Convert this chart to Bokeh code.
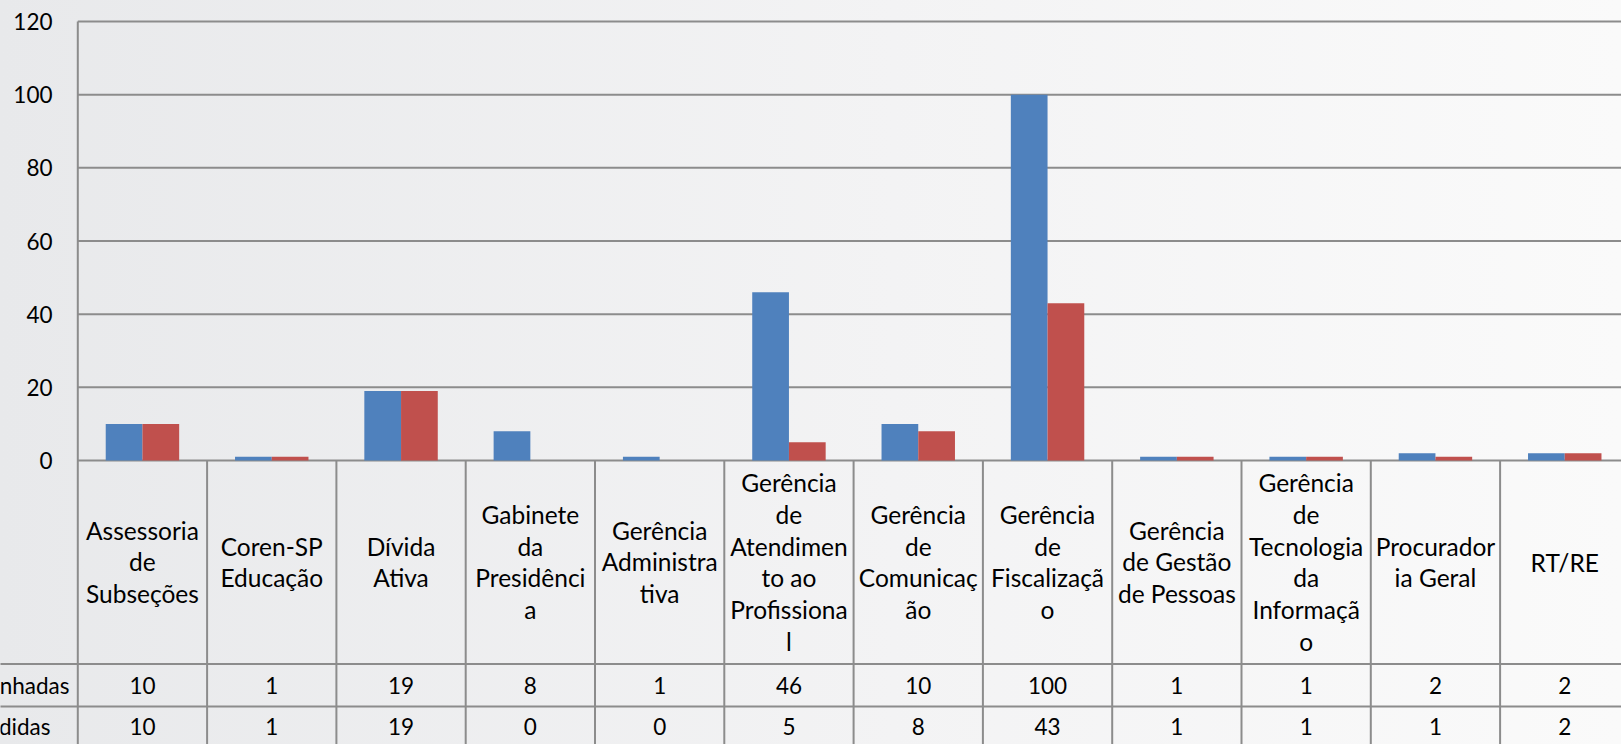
import numpy as np
from bokeh.plotting import figure
from bokeh.models import Range1d
from bokeh.core.properties import value
from bokeh.embed import file_html
from bokeh.resources import INLINE

# ---------------- data ----------------
categories = [
    "Assessoria\nde\nSubseções",
    "Coren-SP\nEducação",
    "Dívida\nAtiva",
    "Gabinete\nda\nPresidênci\na",
    "Gerência\nAdministra\ntiva",
    "Gerência\nde\nAtendimen\nto ao\nProfissiona\nl",
    "Gerência\nde\nComunicaç\não",
    "Gerência\nde\nFiscalizaçã\no",
    "Gerência\nde Gestão\nde Pessoas",
    "Gerência\nde\nTecnologia\nda\nInformaçã\no",
    "Procurador\nia Geral",
    "RT/RE",
]
series_names = ["Encaminhadas", "Respondidas"]
encaminhadas = [10, 1, 19, 8, 1, 46, 10, 100, 1, 1, 2, 2]
respondidas = [10, 1, 19, 0, 0, 5, 8, 43, 1, 1, 1, 2]
y_ticks = [0, 20, 40, 60, 80, 100, 120]

# ---------------- layout (pixel geometry of the page) ----------------
W, H = 1621, 744
AXIS_X = 77.3          # x pixel of the value axis
ZERO_Y = 460.0         # y pixel of value 0
PX_PER_UNIT = 439 / 120.0
COL_PX = 129.3         # width of one category column


def py(y):
    """pixel y -> data y"""
    return -(y - ZERO_Y) / PX_PER_UNIT


def px(x):
    """pixel x -> data x"""
    return (x - AXIS_X) / COL_PX


BLUE = "#4f81bd"
RED = "#c0504d"
GRID = "#8c8c8c"
FONT = value("Lato")

p = figure(width=W, height=H, output_backend="svg", toolbar_location=None,
           x_range=Range1d(px(0), px(W)), y_range=Range1d(py(H), py(0)),
           x_axis_location=None, y_axis_location=None,
           min_border_left=0, min_border_top=0, min_border_bottom=0, min_border_right=0)
p.outline_line_color = None
p.background_fill_alpha = 0
p.border_fill_alpha = 0
p.grid.visible = False
p.styles = {"background": "linear-gradient(90deg, #e8e9eb 0%, #f3f3f4 55%, #fafafa 100%)"}

n = len(categories)
idx = np.arange(n) + 0.5
ybot = py(H) - 5

# horizontal value gridlines (drawn on the value scale)
p.segment(x0=0, y0=y_ticks, x1=n, y1=y_ticks, line_color=GRID, line_width=2)
# value axis line
p.segment(x0=[0], y0=[max(y_ticks)], x1=[0], y1=[ybot], line_color=GRID, line_width=2)
# value axis tick labels
p.text(x=px(52), y=y_ticks, text=[str(t) for t in y_ticks], text_font=FONT,
       text_font_size="22.5px", text_align="right", text_baseline="middle",
       text_color="black")

# bars
bw = 0.284
p.vbar(x=idx - bw / 2, width=bw, top=encaminhadas, bottom=0,
       fill_color=BLUE, line_color=None)
p.vbar(x=idx + bw / 2, width=bw, top=respondidas, bottom=0,
       fill_color=RED, line_color=None)

# data table grid
sep_x = np.arange(1, n + 1)
p.segment(x0=sep_x, y0=0, x1=sep_x, y1=ybot, line_color=GRID, line_width=2)
row_lines = [py(663.5), py(706)]
p.segment(x0=px(-5), y0=row_lines, x1=n, y1=row_lines, line_color=GRID, line_width=2)

# table header (category labels)
p.text(x=idx, y=py(561.5), text=categories, text_font=FONT, text_font_size="24.5px",
       text_align="center", text_baseline="middle", text_line_height=1.1,
       text_color="black")

# table values
row_y = [py(684.5), py(726)]
for vals, yy in zip([encaminhadas, respondidas], row_y):
    p.text(x=idx, y=yy, text=[str(v) for v in vals], text_font=FONT,
           text_font_size="22.5px", text_align="center", text_baseline="middle",
           text_color="black")

# row headers (series names, cut by the left edge as in the original)
label_right = [px(69), px(50)]
p.text(x=label_right, y=row_y, text=series_names, text_font=FONT,
       text_font_size="22.5px", text_align="right", text_baseline="middle",
       text_color="black")

open("out.html", "w").write(file_html(p, INLINE))
